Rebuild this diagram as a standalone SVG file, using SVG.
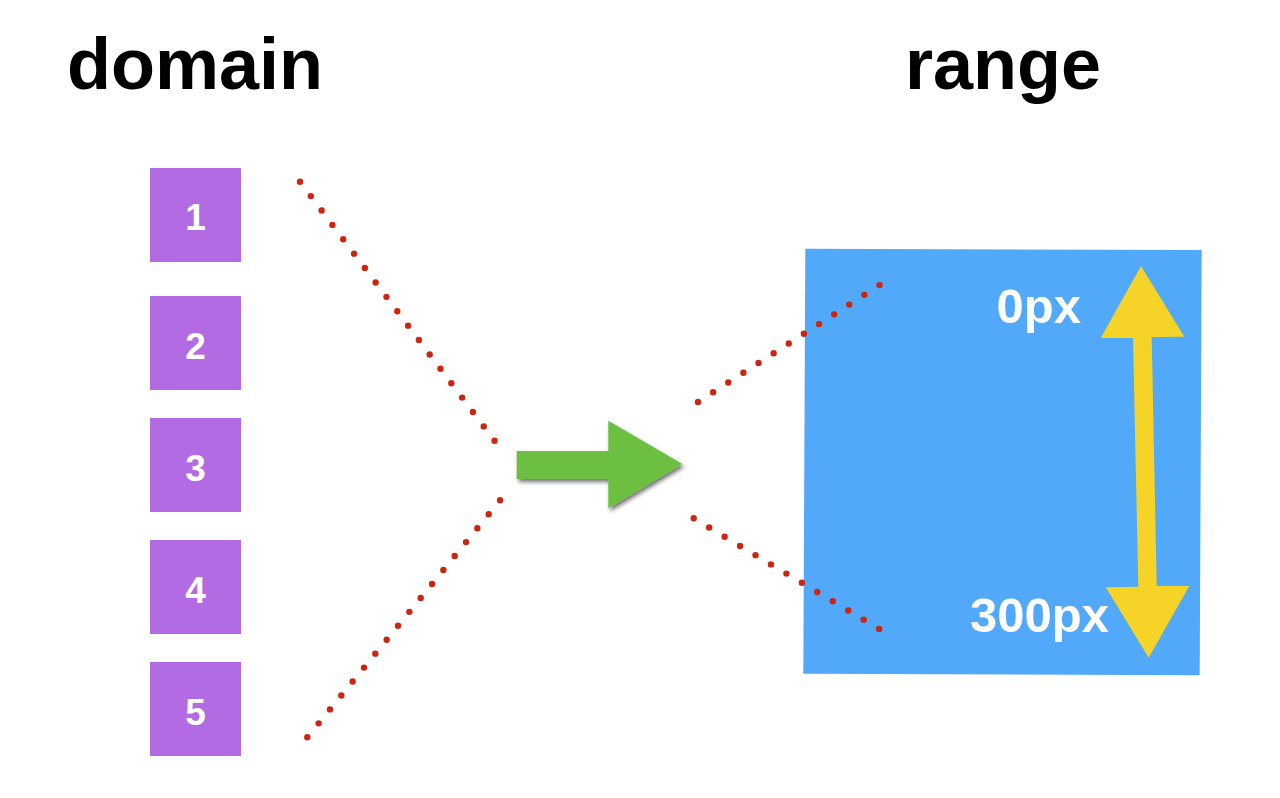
<svg xmlns="http://www.w3.org/2000/svg" width="1280" height="798" viewBox="0 0 1280 798">
  <style>
    .title { font-family: "Liberation Sans", Arial, sans-serif; font-weight: bold; font-size: 72px; fill: #000; text-anchor: middle; }
    .box { fill: #B36BE3; }
    .num { font-family: "Liberation Sans", Arial, sans-serif; font-weight: bold; font-size: 37px; fill: #fff; text-anchor: middle; }
    .px { font-family: "Liberation Sans", Arial, sans-serif; font-weight: bold; font-size: 49px; fill: #fff; text-anchor: end; }
    .dots { fill: none; stroke: #CC2610; stroke-width: 6.4; stroke-linecap: round; }
  </style>
  <defs>
    <filter id="shadow" x="-20%" y="-20%" width="140%" height="150%">
      <feDropShadow dx="2" dy="3" stdDeviation="2" flood-color="#000" flood-opacity="0.55"/>
    </filter>
  </defs>
  <rect width="1280" height="798" fill="#fff"/>

  <g id="domain-title"><text class="title" x="195" y="89">domain</text></g>
  <g id="range-title"><text class="title" x="1003" y="89">range</text></g>

  <g id="box1"><rect class="box" x="150" y="168" width="91" height="94"/><text class="num" x="195.5" y="230">1</text></g>
  <g id="box2"><rect class="box" x="150" y="296" width="91" height="94"/><text class="num" x="195.5" y="359">2</text></g>
  <g id="box3"><rect class="box" x="150" y="418" width="91" height="94"/><text class="num" x="195.5" y="481">3</text></g>
  <g id="box4"><rect class="box" x="150" y="540" width="91" height="94"/><text class="num" x="195.5" y="603">4</text></g>
  <g id="box5"><rect class="box" x="150" y="662" width="91" height="94"/><text class="num" x="195.5" y="725">5</text></g>

  <g id="range-box">
    <polygon points="805.3,248.7 1201.7,250 1199.7,675.3 803.3,673.7" fill="#52A8F9"/>
  </g>

  <g id="connectors">
    <path class="dots" d="M300,181.7 L494.7,441" stroke-dasharray="0 18.0"/>
    <path class="dots" d="M307.3,737.3 L500.3,500" stroke-dasharray="0 17.97"/>
    <path class="dots" d="M698,402 L879.7,285" stroke-dasharray="0 17.99"/>
    <path class="dots" d="M693.7,518.3 L879.3,629" stroke-dasharray="0 17.99"/>
    <polygon id="map-arrow" points="516.7,451 608.3,451 608.3,420.7 682.3,464 608.3,508.3 608.3,479 516.7,479" fill="#6CBF40" filter="url(#shadow)"/>
    <polygon id="range-arrow" points="1141,266 1184.3,336.7 1151.7,337 1156.7,586 1189.3,586 1148.7,657.7 1105.7,587.3 1138.3,586.7 1133,338 1100.7,338" fill="#F5D327"/>
  </g>

  <g id="label-0px"><text class="px" x="1081" y="323">0px</text></g>
  <g id="label-300px"><text class="px" x="1109" y="632">300px</text></g>
</svg>
